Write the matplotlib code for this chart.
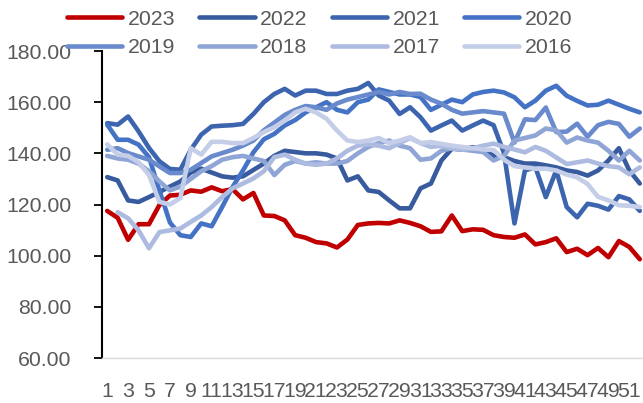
import matplotlib

matplotlib.use("Agg")
import matplotlib.pyplot as plt
from matplotlib.ticker import FormatStrFormatter
import numpy as np

nan = np.nan

WEEKS = list(range(1, 53))

Y2023 = [117.5, 114.8, 106.2, 112.3, 112.3, 119.8, 123.5, 123.8, 125.5, 125.0,
         126.7, 125.2, 126.0, 122.0, 124.5, 115.7, 115.5, 113.8, 108.0, 107.0,
         105.3, 104.8, 103.2, 106.3, 112.0, 112.6, 112.8, 112.6, 113.8, 112.8,
         111.5, 109.3, 109.5, 115.7, 109.6, 110.3, 110.1, 108.0, 107.3, 107.0,
         108.3, 104.4, 105.3, 106.8, 101.4, 102.7, 100.2, 103.0, 99.4, 105.7,
         103.4, 98.6]
Y2022 = [130.7, 129.4, 121.6, 121.0, 122.9, 124.9, 127.0, 129.0, 132.5, 134.0,
         132.5, 131.0, 130.5, 131.0, 133.5, 136.0, 139.0, 141.0, 140.5, 140.0,
         140.0, 139.5, 138.0, 129.4, 131.0, 125.5, 124.9, 121.6, 118.5, 118.5,
         126.3, 128.2, 137.2, 141.8, 141.5, 142.4, 141.5, 139.0, 138.5, 137.0,
         136.0, 136.0, 135.3, 134.5, 133.3, 132.7, 131.3, 133.3, 137.2, 142.0,
         133.3, 128.2]
Y2021 = [151.8, 151.2, 154.4, 148.6, 142.1, 136.9, 133.9, 133.6, 141.4, 147.3,
         150.5, 150.8, 151.0, 151.5, 155.4, 160.0, 163.2, 165.2, 162.6, 164.5,
         164.5, 163.2, 163.2, 164.5, 165.2, 167.5, 162.6, 160.6, 155.4, 158.0,
         154.1, 148.9, 150.9, 152.8, 148.9, 150.9, 152.8, 151.0, 140.0, 112.6,
         133.3, 134.6, 122.9, 133.3, 119.0, 115.0, 120.3, 119.5, 118.0, 123.3,
         122.0, 117.5]
Y2020 = [151.2, 145.3, 145.3, 143.4, 138.5, 125.5, 113.0, 108.0, 107.3, 112.6,
         111.5, 119.0, 126.8, 133.3, 140.4, 145.5, 147.6, 150.9, 153.0, 156.0,
         158.0, 160.0, 157.0, 156.0, 160.0, 161.0, 165.0, 164.0, 163.0, 163.0,
         162.0, 157.0, 159.0, 161.0, 160.0, 163.0, 164.0, 164.5, 163.8, 161.9,
         158.0, 160.6, 164.5, 166.4, 162.5, 160.5, 158.7, 159.0, 160.6, 159.0,
         157.4, 156.0]
Y2019 = [141.4, 142.0, 140.1, 138.8, 137.5, 134.9, 132.3, 132.3, 133.6, 136.2,
         138.8, 140.1, 141.4, 143.0, 145.0, 149.0, 152.0, 155.0, 157.0, 158.5,
         158.0, 157.0, 159.5, 161.0, 162.0, 163.0, 164.0, 163.0, 164.0, 163.2,
         163.3, 161.0, 159.4, 157.0, 155.5, 156.0, 156.5, 156.0, 155.5, 144.2,
         153.3, 153.0, 157.9, 148.3, 148.5, 151.6, 146.5, 151.0, 152.3, 151.5,
         146.5, 149.7]
Y2018 = [139.0, 138.0, 137.5, 136.0, 133.0, 129.0, 125.5, 127.0, 130.0, 133.0,
         135.0, 137.5, 138.5, 139.0, 138.0, 137.0, 131.5, 135.5, 137.0, 136.0,
         136.5, 136.0, 136.0, 137.0, 140.0, 142.5, 144.0, 145.0, 143.0, 142.0,
         137.5, 138.0, 141.0, 142.0, 141.5, 141.0, 140.5, 137.2, 139.0, 145.0,
         146.0, 147.0, 149.7, 149.0, 144.2, 146.2, 145.0, 144.2, 141.0, 137.2,
         141.0, 137.2]
Y2017 = [nan, 117.0, 114.6, 109.9, 102.9, 109.2, 109.9, 110.6, 113.2, 115.7,
         119.0, 122.9, 126.3, 128.2, 130.2, 133.0, 138.5, 139.5, 137.5, 136.0,
         135.5, 136.0, 138.0, 141.0, 143.0, 143.5, 143.0, 142.0, 144.0, 146.0,
         144.0, 142.5, 143.0, 142.0, 141.5, 142.0, 143.0, 143.8, 142.5, 141.5,
         140.4, 142.5, 141.0, 138.4, 135.8, 136.5, 137.2, 136.0, 135.0, 134.5,
         131.8, 134.5]
Y2016 = [143.5, 139.5, 139.0, 136.5, 131.5, 121.0, 120.0, 122.5, 142.0, 139.5,
         144.5, 144.5, 144.0, 144.0, 146.0, 148.3, 150.2, 152.8, 156.0, 157.4,
         156.0, 153.5, 148.9, 145.0, 144.4, 145.0, 146.0, 144.0, 145.0, 146.3,
         144.0, 144.4, 143.7, 143.0, 142.5, 142.0, 141.5, 141.3, 137.5, 135.0,
         134.5, 134.0, 134.0, 133.3, 131.7, 130.6, 128.0, 123.0, 121.6, 119.7,
         119.5, 119.0]

SERIES = [
    ("2023", Y2023, "#C00000"),
    ("2022", Y2022, "#375B9E"),
    ("2021", Y2021, "#3D65AF"),
    ("2020", Y2020, "#4472C4"),
    ("2019", Y2019, "#698ACD"),
    ("2018", Y2018, "#8FA5D6"),
    ("2017", Y2017, "#ADBBE0"),
    ("2016", Y2016, "#C5CEE8"),
]
Y_TICKS = [60, 80, 100, 120, 140, 160, 180]
TEXT_COLOR = "#595959"
FONT_SIZE = 15.3

plt.rcParams["font.family"] = ["Liberation Sans", "DejaVu Sans"]

fig = plt.figure(figsize=(6.43, 4.03), dpi=100)
ax = fig.add_axes([102 / 643, 45 / 403, 543 / 643, 307 / 403])

handles = []
for i, (label, values, color) in enumerate(SERIES):
    (line,) = ax.plot(
        WEEKS,
        values,
        color=color,
        linewidth=3.3,
        solid_capstyle="round",
        solid_joinstyle="round",
        label=label,
        zorder=2 + i,
    )
    handles.append(line)

ax.set_xlim(0.5, 52.5)
ax.set_ylim(60, 180)
ax.set_yticks(Y_TICKS)
ax.yaxis.set_major_formatter(FormatStrFormatter("%.2f"))
ax.set_xticks(WEEKS[::2])
ax.set_xticklabels([str(w) for w in WEEKS[::2]])

for side in ("top", "right"):
    ax.spines[side].set_visible(False)
ax.spines["left"].set_color("black")
ax.spines["left"].set_linewidth(1.5)
ax.spines["bottom"].set_color("#D9D9D9")
ax.spines["bottom"].set_linewidth(1.0)

ax.tick_params(axis="y", direction="out", length=5.8, width=1.3, color="black",
               pad=16, labelsize=FONT_SIZE, labelcolor=TEXT_COLOR)
ax.tick_params(axis="x", length=0, pad=17, labelsize=FONT_SIZE, labelcolor=TEXT_COLOR)

# legend is filled column by column, so interleave to get rows of four
order = [0, 4, 1, 5, 2, 6, 3, 7]
fig.legend(
    [handles[k] for k in order],
    [SERIES[k][0] for k in order],
    loc="center",
    bbox_to_anchor=(0.497, 0.917),
    ncol=4,
    frameon=False,
    fontsize=FONT_SIZE,
    labelcolor=TEXT_COLOR,
    handlelength=2.6,
    handletextpad=0.25,
    columnspacing=1.15,
    labelspacing=0.44,
    borderpad=0.0,
)

fig.savefig("out.png", dpi=100)
